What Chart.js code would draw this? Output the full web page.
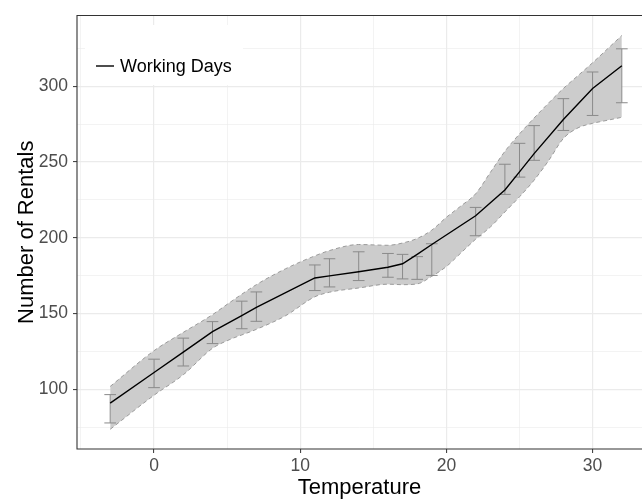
<!DOCTYPE html>
<html>
<head>
<meta charset="utf-8">
<script src="https://cdn.jsdelivr.net/npm/chart.js@4/dist/chart.umd.min.js"></script>
<style>
html,body{margin:0;padding:0;background:#fff;}
#wrap{width:642px;height:499px;position:relative;}
</style>
</head>
<body>
<div id="wrap"><canvas id="c" width="642" height="499"></canvas></div>
<script>
// ---- data ----
const seriesLabel = "Working Days";
const xTitle = "Temperature";
const yTitle = "Number of Rentals";

const lineX = [-3, 0, 2, 4, 6, 7, 11, 12, 14, 16, 17, 18, 19, 22, 24, 25, 26, 28, 30, 32];
const lineY = [90.8, 111.0, 124.5, 138.0, 148.5, 154.0, 173.4, 174.8, 177.5, 180.5, 182.8, 189.0, 195.5, 214.5, 231.5, 243.5, 255.5, 278.0, 298.5, 313.5];

const errLow  = [77.7, 101.0, 115.3, 130.1, 139.9, 144.8, 165.1, 167.5, 171.7, 173.9, 172.8, 172.5, 175.1, 201.3, 228.6, 240.0, 251.1, 270.8, 280.7, 289.1];
const errHigh = [96.4, 119.8, 133.7, 144.6, 158.1, 164.2, 182.0, 186.1, 190.7, 189.6, 189.0, 187.5, 196.0, 220.0, 248.5, 262.3, 274.0, 291.8, 309.4, 324.7];

const bandX     = [-3, 0, 2, 4, 5, 7, 9, 11, 12, 14, 16, 17, 18, 19, 20, 21, 22, 23, 24, 25, 26, 27, 28, 29, 30, 31, 32];
const bandUpper = [101.8, 125.4, 137.5, 149.2, 156.0, 169.0, 179.5, 188.0, 191.5, 195.5, 195.0, 196.5, 199.5, 205.0, 213.5, 221.0, 229.0, 243.0, 257.0, 268.5, 279.0, 289.0, 298.5, 307.0, 315.5, 324.5, 333.5];
const bandLower = [73.5, 96.0, 109.5, 127.0, 132.0, 139.5, 148.5, 161.0, 164.0, 166.8, 169.3, 169.0, 169.5, 174.5, 181.0, 190.0, 199.0, 207.0, 217.0, 227.0, 238.0, 251.0, 265.5, 272.5, 275.5, 277.5, 279.5];

const xMajorEvery = 10;
const yMajorEvery = 50;

// ---- build ----
const pts = (xs, ys) => xs.map((x, i) => ({x: x, y: ys[i]}));
const FONT = '"Liberation Sans", Arial, Helvetica, sans-serif';

const errorBarPlugin = {
  id: 'errorBars',
  beforeDatasetDraw(chart, args) {
    if (chart.data.datasets[args.index].id !== 'main') return;
    const xs = chart.scales.x, ys = chart.scales.y, ctx = chart.ctx;
    ctx.save();
    ctx.strokeStyle = '#8a8a8a';
    ctx.lineWidth = 1;
    for (let i = 0; i < lineX.length; i++) {
      const px = xs.getPixelForValue(lineX[i]);
      const pl = xs.getPixelForValue(lineX[i] - 0.4);
      const pr = xs.getPixelForValue(lineX[i] + 0.4);
      const y1 = ys.getPixelForValue(errLow[i]);
      const y2 = ys.getPixelForValue(errHigh[i]);
      ctx.beginPath();
      ctx.moveTo(px, y1); ctx.lineTo(px, y2);
      ctx.moveTo(pl, y1); ctx.lineTo(pr, y1);
      ctx.moveTo(pl, y2); ctx.lineTo(pr, y2);
      ctx.stroke();
    }
    ctx.restore();
  }
};

const legendBoxPlugin = {
  id: 'legendBox',
  beforeDatasetsDraw(chart) {
    const ctx = chart.ctx;
    ctx.save();
    ctx.fillStyle = '#ffffff';
    ctx.fillRect(85, 25, 158, 60);
    ctx.strokeStyle = '#000';
    ctx.lineWidth = 1.4;
    ctx.beginPath();
    ctx.moveTo(96, 66); ctx.lineTo(114, 66);
    ctx.stroke();
    ctx.fillStyle = '#000';
    ctx.font = '18px ' + FONT;
    ctx.textBaseline = 'middle';
    ctx.textAlign = 'left';
    ctx.fillText(chart.data.datasets[2].label, 120, 67);
    ctx.restore();
  }
};

const panelBorderPlugin = {
  id: 'panelBorder',
  afterDatasetsDraw(chart) {
    const a = chart.chartArea, ctx = chart.ctx;
    ctx.save();
    ctx.strokeStyle = '#333333';
    ctx.lineWidth = 1.1;
    ctx.beginPath();
    ctx.moveTo(a.right + 2, a.top); ctx.lineTo(a.left, a.top);
    ctx.lineTo(a.left, a.bottom); ctx.lineTo(a.right + 2, a.bottom);
    ctx.stroke();
    ctx.restore();
  }
};

const isMajor = (v, every) => Math.abs(v / every - Math.round(v / every)) < 1e-6;

new Chart(document.getElementById('c'), {
  type: 'line',
  data: {
    datasets: [
      {
        id: 'upper', label: 'upper', data: pts(bandX, bandUpper),
        borderColor: '#9a9a9a', borderWidth: 1, borderDash: [4, 3],
        backgroundColor: '#cccccc', fill: '+1',
        pointRadius: 0, cubicInterpolationMode: 'monotone', order: 3
      },
      {
        id: 'lower', label: 'lower', data: pts(bandX, bandLower),
        borderColor: '#9a9a9a', borderWidth: 1, borderDash: [4, 3],
        fill: false, pointRadius: 0, cubicInterpolationMode: 'monotone', order: 2
      },
      {
        id: 'main', label: seriesLabel, data: pts(lineX, lineY),
        borderColor: '#000000', borderWidth: 1.4, fill: false,
        pointRadius: 0, tension: 0, order: 0
      }
    ]
  },
  options: {
    responsive: false,
    devicePixelRatio: 1,
    animation: false,
    layout: { padding: { top: 12, right: 0, left: 0, bottom: 0 } },
    plugins: { legend: { display: false }, tooltip: { enabled: false }, title: { display: false } },
    scales: {
      x: {
        type: 'linear', min: -5.27, max: 33.38,
        afterFit(s) { s.height = 50; },
        border: { display: false },
        grid: {
          color: '#ebebeb',
          lineWidth: c => isMajor(c.tick.value, xMajorEvery) ? 1.2 : 0.6,
          tickColor: c => isMajor(c.tick.value, xMajorEvery) ? '#333333' : 'rgba(0,0,0,0)',
          tickLength: 4, tickWidth: 1
        },
        ticks: {
          stepSize: 5, includeBounds: false, autoSkip: false, maxRotation: 0,
          padding: 3, color: '#4d4d4d', font: { family: FONT, size: 17.5 },
          callback: v => isMajor(v, xMajorEvery) ? String(v) : ''
        },
        title: {
          display: true, text: xTitle, color: '#000',
          font: { family: FONT, size: 22, lineHeight: 1 }, padding: { top: 0, bottom: 0 }
        }
      },
      y: {
        type: 'linear', min: 60.5, max: 346.7,
        afterFit(s) { s.width = 77; },
        border: { display: false },
        grid: {
          color: '#ebebeb',
          lineWidth: c => isMajor(c.tick.value, yMajorEvery) ? 1.2 : 0.6,
          tickColor: c => isMajor(c.tick.value, yMajorEvery) ? '#333333' : 'rgba(0,0,0,0)',
          tickLength: 4, tickWidth: 1
        },
        ticks: {
          stepSize: 25, includeBounds: false, autoSkip: false,
          padding: 5, color: '#4d4d4d', font: { family: FONT, size: 17.5 },
          callback: v => isMajor(v, yMajorEvery) ? String(v) : ''
        },
        title: {
          display: true, text: yTitle, color: '#000',
          font: { family: FONT, size: 22, lineHeight: 1 }, padding: { top: 15.5, bottom: 0 }
        }
      }
    }
  },
  plugins: [errorBarPlugin, legendBoxPlugin, panelBorderPlugin]
});
</script>
</body>
</html>
